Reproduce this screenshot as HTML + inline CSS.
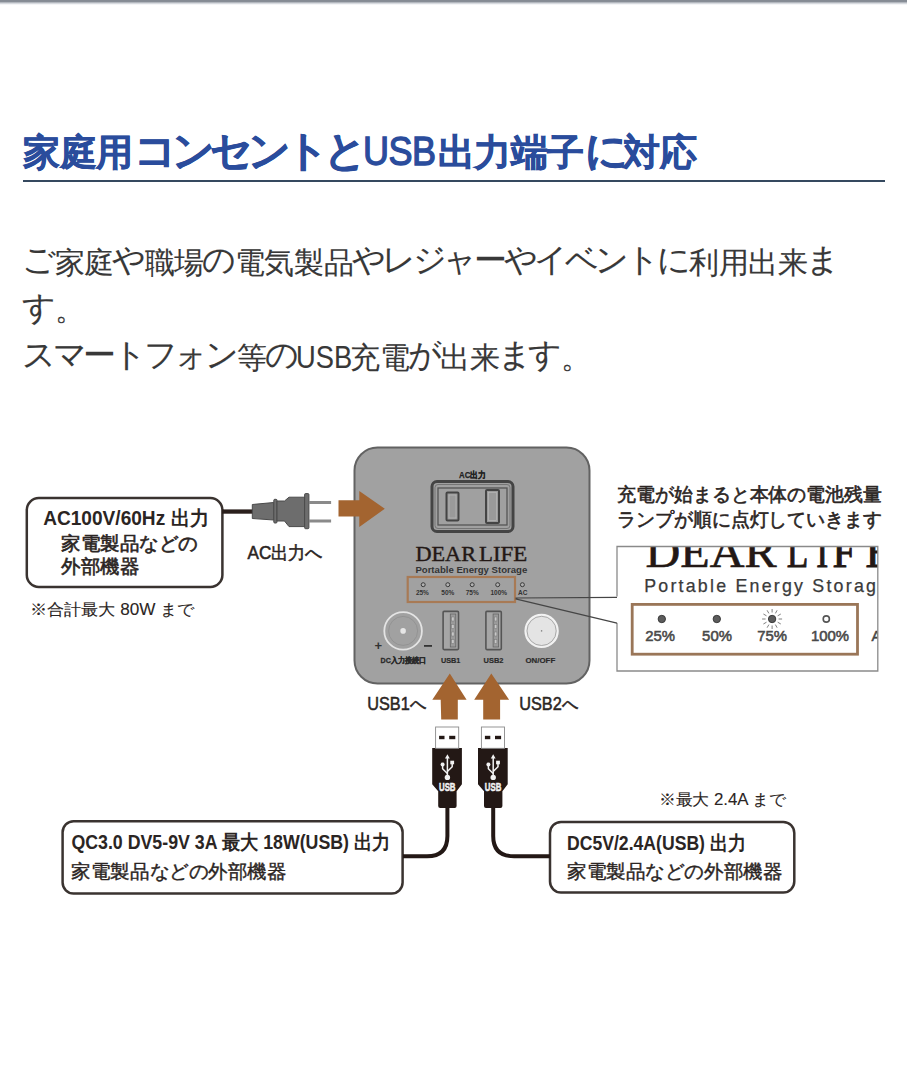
<!DOCTYPE html>
<html lang="ja">
<head>
<meta charset="utf-8">
<style>
html,body{margin:0;padding:0;background:#fff;}
body{width:907px;height:1080px;position:relative;overflow:hidden;font-family:"Liberation Sans",sans-serif;}
.topshadow{position:absolute;left:0;top:0;width:907px;height:8px;background:linear-gradient(#848a93 0px,#878d96 1.5px,#c9cdd3 3px,#f4f5f7 4.5px,#fff 5.5px);}
.title{position:absolute;left:23px;top:126.5px;font-size:37px;font-weight:bold;color:#2a4c9c;white-space:nowrap;line-height:52px;letter-spacing:-0.4px;-webkit-text-stroke:0.6px #2a4c9c;}
.title .k{font-size:42px;letter-spacing:-5px;margin-left:1.5px;margin-right:-0.5px;line-height:0;}
.title span{display:inline-block;font-size:40px;font-weight:normal;letter-spacing:-0.5px;-webkit-text-stroke:1.3px #2a4c9c;transform:scaleX(0.9);transform-origin:0 0;margin-left:1.5px;margin-right:-6.5px;position:relative;top:0.6px;line-height:0;}
.rule{position:absolute;left:23px;top:180.4px;width:861.5px;height:2px;background:#35495f;}
.body{position:absolute;left:24px;top:238.5px;font-size:30px;color:#383838;line-height:47.5px;white-space:nowrap;letter-spacing:-0.3px;-webkit-text-stroke:0.1px #383838;}
.body .k{font-style:normal;font-size:33px;letter-spacing:-3.4px;margin-left:-1.8px;margin-right:1.8px;position:relative;top:-1.5px;line-height:0;}
.usb{display:inline-block;font-size:31px;transform:scaleX(0.88);transform-origin:0 0;margin-right:-9.6px;margin-left:-1.5px;letter-spacing:0;line-height:0;}
svg{position:absolute;left:0;top:0;}
</style>
</head>
<body>
<div class="topshadow"></div>
<div class="title">家庭用<b class="k">コンセントと</b><span>USB</span>出力端子<b class="k">に</b>対応</div>
<div class="rule"></div>
<div class="body"><i class="k">ご</i>家庭<i class="k">や</i>職場<i class="k">の</i>電気製品<i class="k">やレジャーやイベントに</i>利用出来<i class="k">ま</i><br><i class="k">す</i>。<br><i class="k">スマートフォン</i>等<i class="k">の</i><span class="usb">USB</span>充電<i class="k">が</i>出来<i class="k">ます</i>。</div>
<svg width="907" height="1080" viewBox="0 0 907 1080">
<rect x="354.5" y="447.5" width="235" height="236" rx="23" ry="23" fill="#a1a1a1" stroke="#626262" stroke-width="2"/>
<rect x="432" y="481.5" width="81" height="50" rx="5" fill="#a0a0a0" stroke="#444" stroke-width="3"/>
<rect x="435" y="484.5" width="75" height="44" rx="3" fill="none" stroke="#6a6a6a" stroke-width="0.8"/>
<rect x="438" y="488" width="69" height="37" fill="none" stroke="#555" stroke-width="1.3"/>
<rect x="446.5" y="492.5" width="12" height="28" rx="1" fill="#9a9a9a" stroke="#444" stroke-width="2"/>
<rect x="486" y="490" width="13" height="33" rx="1" fill="#9a9a9a" stroke="#444" stroke-width="2"/>
<rect x="449" y="495" width="7" height="23" fill="none" stroke="#b8b8b8" stroke-width="0.7"/>
<rect x="488.5" y="492.5" width="8" height="28" fill="none" stroke="#b8b8b8" stroke-width="0.7"/>
<text x="459" y="477.5" font-size="9" font-weight="bold" fill="#222" font-family="'Liberation Sans', sans-serif" textLength="27.0" lengthAdjust="spacingAndGlyphs"  stroke="#222" stroke-width="0.25">AC出力</text>

<text x="415.4" y="560.9" font-size="21.6" fill="#231815" font-family="'Liberation Serif', serif" textLength="60.6" lengthAdjust="spacingAndGlyphs"  stroke="#231815" stroke-width="0.4">DEAR</text>

<text x="479" y="560.9" font-size="21.6" fill="#231815" font-family="'Liberation Serif', serif" textLength="48.3" lengthAdjust="spacingAndGlyphs"  stroke="#231815" stroke-width="0.4">LIFE</text>

<text x="415.4" y="572.5" font-size="9" font-weight="bold" fill="#333" font-family="'Liberation Sans', sans-serif" textLength="111.9" lengthAdjust="spacingAndGlyphs" >Portable Energy Storage</text>

<rect x="407.7" y="577" width="107.3" height="25" fill="none" stroke="#a87a55" stroke-width="2.2"/>
<circle cx="423.2" cy="584.7" r="2" fill="#b0b0b0" stroke="#3a3a3a" stroke-width="1"/>
<circle cx="447.8" cy="584.7" r="2" fill="#b0b0b0" stroke="#3a3a3a" stroke-width="1"/>
<circle cx="472.2" cy="584.7" r="2" fill="#b0b0b0" stroke="#3a3a3a" stroke-width="1"/>
<circle cx="497.7" cy="584.7" r="2" fill="#b0b0b0" stroke="#3a3a3a" stroke-width="1"/>
<circle cx="522.4" cy="584.7" r="2" fill="#b0b0b0" stroke="#3a3a3a" stroke-width="1"/>
<text x="422.4" y="595.3" font-size="6.5" font-weight="bold" fill="#333" font-family="'Liberation Sans', sans-serif" text-anchor="middle" >25%</text>

<text x="447.8" y="595.3" font-size="6.5" font-weight="bold" fill="#333" font-family="'Liberation Sans', sans-serif" text-anchor="middle" >50%</text>

<text x="472.2" y="595.3" font-size="6.5" font-weight="bold" fill="#333" font-family="'Liberation Sans', sans-serif" text-anchor="middle" >75%</text>

<text x="498.8" y="595.3" font-size="6.5" font-weight="bold" fill="#333" font-family="'Liberation Sans', sans-serif" text-anchor="middle" >100%</text>

<text x="522.7" y="595.3" font-size="6.5" font-weight="bold" fill="#333" font-family="'Liberation Sans', sans-serif" text-anchor="middle" >AC</text>

<circle cx="403.1" cy="630.9" r="18.8" fill="#a1a1a1" stroke="#e4e4e4" stroke-width="1.8"/>
<circle cx="403.1" cy="630.9" r="14.5" fill="none" stroke="#8f8f8f" stroke-width="0.8"/>
<circle cx="403.1" cy="630.9" r="2.8" fill="#e6e6e6"/>
<text x="378.4" y="650" font-size="13" font-weight="bold" fill="#333" font-family="'Liberation Sans', sans-serif" text-anchor="middle" >+</text>

<rect x="424" y="645" width="8" height="1.8" fill="#333"/>
<rect x="443.1" y="611.4" width="15.4" height="38.2" rx="1" fill="#a6a6a6" stroke="#555" stroke-width="1.6"/>
<rect x="450.3" y="614" width="5.5" height="33" fill="#9a9a9a" stroke="#666" stroke-width="0.8"/>
<rect x="451.6" y="617.0" width="2.5" height="4" fill="#c8c8c8" stroke="#777" stroke-width="0.5"/>
<rect x="451.6" y="624.5" width="2.5" height="4" fill="#c8c8c8" stroke="#777" stroke-width="0.5"/>
<rect x="451.6" y="632.0" width="2.5" height="4" fill="#c8c8c8" stroke="#777" stroke-width="0.5"/>
<rect x="451.6" y="639.5" width="2.5" height="4" fill="#c8c8c8" stroke="#777" stroke-width="0.5"/>
<rect x="485.90000000000003" y="611.4" width="15.4" height="38.2" rx="1" fill="#a6a6a6" stroke="#555" stroke-width="1.6"/>
<rect x="493.1" y="614" width="5.5" height="33" fill="#9a9a9a" stroke="#666" stroke-width="0.8"/>
<rect x="494.40000000000003" y="617.0" width="2.5" height="4" fill="#c8c8c8" stroke="#777" stroke-width="0.5"/>
<rect x="494.40000000000003" y="624.5" width="2.5" height="4" fill="#c8c8c8" stroke="#777" stroke-width="0.5"/>
<rect x="494.40000000000003" y="632.0" width="2.5" height="4" fill="#c8c8c8" stroke="#777" stroke-width="0.5"/>
<rect x="494.40000000000003" y="639.5" width="2.5" height="4" fill="#c8c8c8" stroke="#777" stroke-width="0.5"/>
<circle cx="541.6" cy="630.9" r="16.2" fill="#e4e4e4" stroke="#f2f2f2" stroke-width="2"/>
<circle cx="541.6" cy="630.9" r="14.6" fill="none" stroke="#9a9a9a" stroke-width="0.8"/>
<circle cx="541.6" cy="630.9" r="0.8" fill="#888"/>
<text x="380.6" y="662.8" font-size="8" font-weight="bold" fill="#2a2a2a" font-family="'Liberation Sans', sans-serif" textLength="45.6" lengthAdjust="spacingAndGlyphs"  stroke="#2a2a2a" stroke-width="0.3">DC入力接続口</text>

<text x="441" y="662.8" font-size="8" font-weight="bold" fill="#2a2a2a" font-family="'Liberation Sans', sans-serif" textLength="19.4" lengthAdjust="spacingAndGlyphs"  stroke="#2a2a2a" stroke-width="0.2">USB1</text>

<text x="483.6" y="662.8" font-size="8" font-weight="bold" fill="#2a2a2a" font-family="'Liberation Sans', sans-serif" textLength="19.8" lengthAdjust="spacingAndGlyphs"  stroke="#2a2a2a" stroke-width="0.2">USB2</text>

<text x="525.5" y="662.8" font-size="8" font-weight="bold" fill="#2a2a2a" font-family="'Liberation Sans', sans-serif" textLength="29.7" lengthAdjust="spacingAndGlyphs"  stroke="#2a2a2a" stroke-width="0.2">ON/OFF</text>

<polygon points="338.5,500.2 359.3,500.2 359.3,491 384.8,508.7 359.3,527 359.3,516.4 338.5,516.4" fill="#a36430"/>
<polygon points="449.8,673.4 466.6,699.7 457.8,699.7 457.8,719.4 441.2,719.4 440.7,699.7 432.3,699.7" fill="#a36430"/>
<polygon points="491.3,673.4 509.1,699.7 500.1,699.7 500.1,719.4 483.2,719.4 483.2,699.7 474.2,699.7" fill="#a36430"/>
<defs><clipPath id="pc"><rect x="617" y="546.5" width="260.8" height="124.5"/></clipPath></defs>
<g clip-path="url(#pc)">
<text x="645.5" y="567.4" font-size="45" fill="#231815" stroke="#231815" stroke-width="0.6" font-family="'Liberation Serif', serif" textLength="131.0" lengthAdjust="spacingAndGlyphs">DEAR</text>
<text x="786.7" y="567.4" font-size="45" fill="#231815" stroke="#231815" stroke-width="1" font-family="'Liberation Serif', serif" textLength="21.6" lengthAdjust="spacingAndGlyphs">L</text>
<text x="816.2" y="567.4" font-size="45" fill="#231815" stroke="#231815" stroke-width="1" font-family="'Liberation Serif', serif" textLength="12.0" lengthAdjust="spacingAndGlyphs">I</text>
<text x="832.5" y="567.4" font-size="45" fill="#231815" stroke="#231815" stroke-width="1" font-family="'Liberation Serif', serif" textLength="23.5" lengthAdjust="spacingAndGlyphs">F</text>
<text x="865.5" y="567.4" font-size="45" fill="#231815" stroke="#231815" stroke-width="1" font-family="'Liberation Serif', serif" textLength="27.5" lengthAdjust="spacingAndGlyphs">E</text>
<text x="644.2" y="592.2" font-size="17.8" fill="#3a3a3a" stroke="#3a3a3a" stroke-width="0.25" font-family="'Liberation Sans', sans-serif" textLength="243.8" lengthAdjust="spacing">Portable Energy Storage</text>
<text x="871.5" y="641.3" font-size="15" fill="#444" stroke="#444" stroke-width="0.5" font-family="'Liberation Sans', sans-serif">A</text>
</g>
<polyline points="617,596.5 617,546.5 877.8,546.5 877.8,671 617,671 617,623" fill="none" stroke="#8a8a8a" stroke-width="1.3"/>
<path d="M515.5,598 L617,597.3 M515.5,598.8 L617,623.2" fill="none" stroke="#454545" stroke-width="1.2"/>
<rect x="632.2" y="604.4" width="225.3" height="49.8" fill="none" stroke="#9a7658" stroke-width="2.8"/>
<circle cx="661.8" cy="619" r="3.7" fill="#5c5c5c" stroke="#333" stroke-width="0.9"/>
<text x="660.2" y="641.2" font-size="14.9" fill="#4a4a4a" font-family="'Liberation Sans', sans-serif" text-anchor="middle" stroke="#4a4a4a" stroke-width="0.55">25%</text>

<circle cx="716.8" cy="619" r="3.7" fill="#5c5c5c" stroke="#333" stroke-width="0.9"/>
<text x="717" y="641.2" font-size="14.9" fill="#4a4a4a" font-family="'Liberation Sans', sans-serif" text-anchor="middle" stroke="#4a4a4a" stroke-width="0.55">50%</text>

<circle cx="772.1" cy="619" r="3.7" fill="#5c5c5c" stroke="#333" stroke-width="0.9"/>
<text x="772.2" y="641.2" font-size="14.9" fill="#4a4a4a" font-family="'Liberation Sans', sans-serif" text-anchor="middle" stroke="#4a4a4a" stroke-width="0.55">75%</text>

<circle cx="826.3" cy="619" r="3.1" fill="#fff" stroke="#555" stroke-width="1.6"/>
<text x="830" y="641.2" font-size="14.9" fill="#4a4a4a" font-family="'Liberation Sans', sans-serif" text-anchor="middle" stroke="#4a4a4a" stroke-width="0.55">100%</text>

<path d="M778.6,619.0 L782.1,619.0 M777.7,622.2 L780.8,624.0 M775.4,624.6 L777.1,627.7 M772.1,625.5 L772.1,629.0 M768.9,624.6 L767.1,627.7 M766.5,622.2 L763.4,624.0 M765.6,619.0 L762.1,619.0 M766.5,615.8 L763.4,614.0 M768.9,613.4 L767.1,610.3 M772.1,612.5 L772.1,609.0 M775.4,613.4 L777.1,610.3 M777.7,615.8 L780.8,614.0" stroke="#808080" stroke-width="1"/>
<rect x="26.8" y="498" width="195.6" height="89" rx="12" fill="#fff" stroke="#3a3330" stroke-width="2.5"/>
<rect x="222" y="509.4" width="31" height="4.3" fill="#2a1f1c"/>
<g fill="#6d6d6d" stroke="#4a4a4a" stroke-width="1">
<path d="M252.3,504.5 L273.8,502.5 V520 L252.3,518.5 Z"/>
<rect x="273.8" y="499.3" width="3.2" height="23.7" rx="1"/>
<path d="M277,501 H284.5 L289,497.2 H304.6 V526.6 H289 L284.5,521 H277 Z"/>
<rect x="304.6" y="493.6" width="4.3" height="35.1" rx="1"/>
</g>
<rect x="308.9" y="501" width="22.2" height="3" fill="#8a8a8a"/>
<rect x="308.9" y="519.5" width="22.2" height="3" fill="#8a8a8a"/>
<text x="43.2" y="525" font-size="20" font-weight="bold" fill="#2b2523" font-family="'Liberation Sans', sans-serif" textLength="165.5" lengthAdjust="spacingAndGlyphs" >AC100V/60Hz 出力</text>

<text x="61" y="550" font-size="19" fill="#2b2523" font-family="'Liberation Sans', sans-serif" textLength="136.5" lengthAdjust="spacingAndGlyphs"  stroke="#2b2523" stroke-width="0.6">家電製品などの</text>

<text x="61" y="573.3" font-size="19" fill="#2b2523" font-family="'Liberation Sans', sans-serif" textLength="78.0" lengthAdjust="spacingAndGlyphs"  stroke="#2b2523" stroke-width="0.6">外部機器</text>

<text x="29.8" y="614.5" font-size="16" fill="#2b2523" font-family="'Liberation Sans', sans-serif" textLength="164.7" lengthAdjust="spacingAndGlyphs"  stroke="#2b2523" stroke-width="0.1">※合計最大 80W まで</text>

<text x="247.5" y="558.6" font-size="18" fill="#2b2523" font-family="'Liberation Sans', sans-serif" textLength="75.0" lengthAdjust="spacingAndGlyphs"  stroke="#2b2523" stroke-width="0.55">AC出力へ</text>

<text x="617.3" y="500.6" font-size="19" fill="#2b2523" font-family="'Liberation Sans', sans-serif" textLength="264.6" lengthAdjust="spacingAndGlyphs"  stroke="#2b2523" stroke-width="0.6">充電が始まると本体の電池残量</text>

<text x="617.3" y="526" font-size="19" fill="#2b2523" font-family="'Liberation Sans', sans-serif" textLength="264.6" lengthAdjust="spacingAndGlyphs"  stroke="#2b2523" stroke-width="0.6">ランプが順に点灯していきます</text>

<text x="367.2" y="710.2" font-size="18" fill="#2b2523" font-family="'Liberation Sans', sans-serif" textLength="58.8" lengthAdjust="spacingAndGlyphs"  stroke="#2b2523" stroke-width="0.5">USB1へ</text>

<text x="519.2" y="710.2" font-size="18" fill="#2b2523" font-family="'Liberation Sans', sans-serif" textLength="58.8" lengthAdjust="spacingAndGlyphs"  stroke="#2b2523" stroke-width="0.5">USB2へ</text>

<g transform="translate(0,0)">
<path d="M432.2,748 H461.9 V784.2 L456.6,791.2 V806 Q456.6,808 454.6,808 H440.2 Q438.2,808 438.2,806 V791.2 L432.2,784.2 Z" fill="#231815"/>
<rect x="435.6" y="727" width="23.1" height="21.3" fill="#fff" stroke="#8a8a8a" stroke-width="0.9"/>
<rect x="439.1" y="735.8" width="5.4" height="3.4" fill="#231815"/>
<rect x="449.2" y="735.8" width="6.1" height="3.4" fill="#231815"/>
<g stroke="#f2f2f2" stroke-width="1.5" fill="none" stroke-linejoin="round"><path d="M447.4,757.5 V777"/><path d="M442.6,765 V768.8 L447.4,773.5"/><path d="M452.2,763 V766.8 L447.4,771.5"/></g><path d="M447.4,754.2 L445,758.4 H449.8 Z" fill="#f2f2f2"/><circle cx="447.4" cy="777.4" r="2.7" fill="#f2f2f2"/><circle cx="442.6" cy="764.6" r="2" fill="#f2f2f2"/><rect x="450.3" y="760.7" width="3.8" height="3.6" fill="#f2f2f2"/>
<text x="439" y="791" font-size="10.5" font-weight="bold" fill="#f2f2f2" font-family="'Liberation Sans', sans-serif" textLength="16.5" lengthAdjust="spacingAndGlyphs"  stroke="#f2f2f2" stroke-width="0.5">USB</text>
</g>

<g transform="translate(45.8,0)">
<path d="M432.2,748 H461.9 V784.2 L456.6,791.2 V806 Q456.6,808 454.6,808 H440.2 Q438.2,808 438.2,806 V791.2 L432.2,784.2 Z" fill="#231815"/>
<rect x="435.6" y="727" width="23.1" height="21.3" fill="#fff" stroke="#8a8a8a" stroke-width="0.9"/>
<rect x="439.1" y="735.8" width="5.4" height="3.4" fill="#231815"/>
<rect x="449.2" y="735.8" width="6.1" height="3.4" fill="#231815"/>
<g stroke="#f2f2f2" stroke-width="1.5" fill="none" stroke-linejoin="round"><path d="M447.4,757.5 V777"/><path d="M442.6,765 V768.8 L447.4,773.5"/><path d="M452.2,763 V766.8 L447.4,771.5"/></g><path d="M447.4,754.2 L445,758.4 H449.8 Z" fill="#f2f2f2"/><circle cx="447.4" cy="777.4" r="2.7" fill="#f2f2f2"/><circle cx="442.6" cy="764.6" r="2" fill="#f2f2f2"/><rect x="450.3" y="760.7" width="3.8" height="3.6" fill="#f2f2f2"/>
<text x="439" y="791" font-size="10.5" font-weight="bold" fill="#f2f2f2" font-family="'Liberation Sans', sans-serif" textLength="16.5" lengthAdjust="spacingAndGlyphs"  stroke="#f2f2f2" stroke-width="0.5">USB</text>
</g>

<rect x="62.6" y="821.2" width="340" height="72.3" rx="11" fill="#fff" stroke="#3a3330" stroke-width="2.5"/>
<rect x="550" y="822" width="244.3" height="70.6" rx="11" fill="#fff" stroke="#3a3330" stroke-width="2.5"/>
<path d="M447.4,806 V836 Q447.4,856.3 427,856.3 H403" fill="none" stroke="#231815" stroke-width="4"/>
<path d="M493.2,806 V836 Q493.2,856.3 514,856.3 H550" fill="none" stroke="#231815" stroke-width="4"/>
<text x="71.4" y="848.8" font-size="19.5" font-weight="bold" fill="#2b2523" font-family="'Liberation Sans', sans-serif" textLength="319.0" lengthAdjust="spacingAndGlyphs" >QC3.0 DV5-9V 3A 最大 18W(USB) 出力</text>

<text x="71.4" y="877.5" font-size="19" fill="#2b2523" font-family="'Liberation Sans', sans-serif" textLength="215.0" lengthAdjust="spacingAndGlyphs"  stroke="#2b2523" stroke-width="0.4">家電製品などの外部機器</text>

<text x="658.7" y="804.5" font-size="16" fill="#2b2523" font-family="'Liberation Sans', sans-serif" textLength="127.3" lengthAdjust="spacingAndGlyphs"  stroke="#2b2523" stroke-width="0.1">※最大 2.4A まで</text>

<text x="567" y="850" font-size="19.5" font-weight="bold" fill="#2b2523" font-family="'Liberation Sans', sans-serif" textLength="179.0" lengthAdjust="spacingAndGlyphs" >DC5V/2.4A(USB) 出力</text>

<text x="567" y="877.5" font-size="19" fill="#2b2523" font-family="'Liberation Sans', sans-serif" textLength="215.4" lengthAdjust="spacingAndGlyphs"  stroke="#2b2523" stroke-width="0.4">家電製品などの外部機器</text>

</svg>
</body>
</html>
